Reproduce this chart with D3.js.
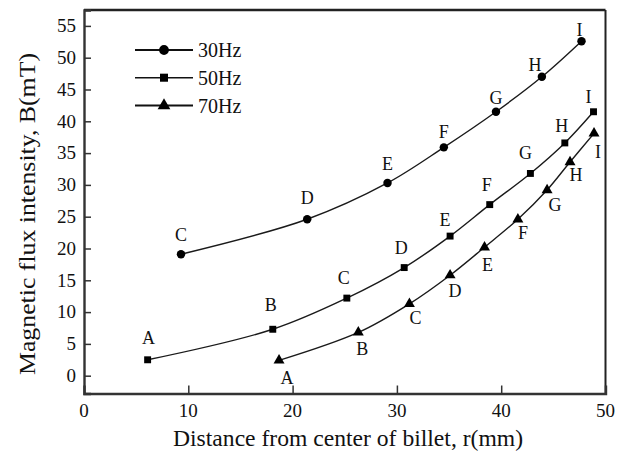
<!DOCTYPE html>
<html>
<head>
<meta charset="utf-8">
<script src="https://cdn.jsdelivr.net/npm/d3@7"></script>
<style>
  html, body { margin: 0; padding: 0; background: #fff; }
  svg { display: block; }
  text { font-family: "Liberation Serif", "Times New Roman", serif; fill: #111; }
</style>
</head>
<body>
<svg id="chart" width="624" height="452"></svg>
<script>
// Measured field strength along the billet radius, three stirring frequencies
const radius30 = [9.3, 21.4, 29.1, 34.5, 39.5, 43.9, 47.7];
const flux30   = [19.1, 24.6, 30.3, 35.9, 41.5, 47.0, 52.6];
const names30  = ["C", "D", "E", "F", "G", "H", "I"];

const radius50 = [6.1, 18.1, 25.2, 30.7, 35.1, 38.9, 42.8, 46.1, 48.85];
const flux50   = [2.5, 7.3, 12.2, 17.0, 21.95, 26.9, 31.8, 36.6, 41.5];
const names50  = ["A", "B", "C", "D", "E", "F", "G", "H", "I"];

const radius70 = [18.7, 26.3, 31.2, 35.1, 38.4, 41.6, 44.4, 46.6, 48.9];
const flux70   = [2.4, 6.8, 11.3, 15.8, 20.2, 24.6, 29.2, 33.6, 38.1];
const names70  = ["A", "B", "C", "D", "E", "F", "G", "H", "I"];

const seriesNames = ["30Hz", "50Hz", "70Hz"];
const xTicks = [0, 10, 20, 30, 40, 50];
const yTicks = [0, 5, 10, 15, 20, 25, 30, 35, 40, 45, 50, 55];
const xTitle = "Distance from center of billet, r(mm)";
const yTitle = "Magnetic flux intensity, B(mT)";

const svg = d3.select("#chart");
const plot = { left: 84, right: 605.5, top: 10, bottom: 393.5 };

const x = d3.scaleLinear().domain([0, 50]).range([plot.left, plot.right]);
const y = d3.scaleLinear().domain([-2.8, 57.5]).range([plot.bottom, plot.top]);

const series = [
  { name: seriesNames[0], r: radius30, b: flux30, ids: names30, symbol: d3.symbolCircle, size: 56, lw: 2.2,
    label: { dx: 0, dy: -16 }, over: { C: { dy: -19 }, D: { dy: -21 }, E: { dy: -19 }, F: { dy: -15 }, G: { dy: -14 }, H: { dx: -7, dy: -12 }, I: { dx: -2, dy: -11 } } },
  { name: seriesNames[1], r: radius50, b: flux50, ids: names50, symbol: d3.symbolSquare, size: 48, lw: 1.4,
    label: { dx: -3, dy: -20 }, over: { A: { dx: 1, dy: -22 }, B: { dx: -2, dy: -24 }, E: { dx: -5, dy: -16 }, G: { dx: -5, dy: -20 }, H: { dx: -3, dy: -17 }, I: { dx: -5, dy: -15 } } },
  { name: seriesNames[2], r: radius70, b: flux70, ids: names70, symbol: d3.symbolTriangle, size: 52, lw: 2.2,
    label: { dx: 5, dy: 16 }, over: { A: { dx: 8, dy: 18 }, B: { dx: 4, dy: 17 }, C: { dx: 6, dy: 14 }, E: { dx: 3, dy: 18 }, F: { dx: 5, dy: 14 }, G: { dx: 8, dy: 15 }, H: { dx: 6, dy: 13 }, I: { dx: 4, dy: 19 } } }
];

// frame
const frame = svg.append("g").attr("stroke", "#222").attr("fill", "none");
frame.append("line").attr("x1", plot.left).attr("x2", plot.right).attr("y1", plot.top).attr("y2", plot.top).attr("stroke-width", 2.6);
frame.append("line").attr("x1", plot.right).attr("x2", plot.right).attr("y1", plot.top).attr("y2", plot.bottom).attr("stroke-width", 2);

// axes with inward ticks
const xAxis = svg.append("g").attr("transform", `translate(0,${plot.bottom})`)
  .call(d3.axisTop(x).tickValues(xTicks).tickSize(8).tickFormat(""));
const yAxis = svg.append("g").attr("transform", `translate(${plot.left},0)`)
  .call(d3.axisRight(y).tickValues(yTicks).tickSize(7).tickFormat(""));
[xAxis, yAxis].forEach(a => {
  a.select(".domain").attr("stroke", "#333").attr("stroke-width", 2.4);
  a.selectAll(".tick line").attr("stroke", "#333").attr("stroke-width", 1.5);
});
// the end ticks sit on the frame itself
xAxis.selectAll(".tick").filter(d => d === 0 || d === 50).select("line").remove();

svg.append("g").selectAll("text").data(xTicks).join("text")
  .attr("x", d => x(d)).attr("y", 417).attr("text-anchor", "middle")
  .attr("font-size", 19).text(d => d);
svg.append("g").selectAll("text").data(yTicks).join("text")
  .attr("x", plot.left - 8).attr("y", d => y(d) + 6.3).attr("text-anchor", "end")
  .attr("font-size", 19).text(d => d);

svg.append("text").attr("x", 348).attr("y", 446).attr("text-anchor", "middle")
  .attr("font-size", 23).attr("textLength", 350).attr("lengthAdjust", "spacingAndGlyphs").text(xTitle);
svg.append("text").attr("transform", "translate(35,214) rotate(-90)").attr("text-anchor", "middle")
  .attr("font-size", 23).attr("textLength", 322).attr("lengthAdjust", "spacingAndGlyphs").text(yTitle);

// curves, markers and point letters
const curve = d3.line().x(d => x(d.r)).y(d => y(d.b)).curve(d3.curveCatmullRom.alpha(0.5));
series.forEach(s => {
  const pts = s.r.map((r, i) => ({ r, b: s.b[i], id: s.ids[i] }));
  svg.append("path").datum(pts).attr("d", curve)
    .attr("fill", "none").attr("stroke", "#1a1a1a").attr("stroke-width", 1.4);
  svg.append("g").selectAll("path").data(pts).join("path")
    .attr("transform", d => `translate(${x(d.r)},${y(d.b)})`)
    .attr("d", d3.symbol().type(s.symbol).size(s.size)).attr("fill", "#000");
  svg.append("g").selectAll("text").data(pts).join("text")
    .attr("x", d => x(d.r) + ((s.over[d.id] || s.label).dx ?? s.label.dx))
    .attr("y", d => y(d.b) + ((s.over[d.id] || s.label).dy ?? s.label.dy) + 6)
    .attr("text-anchor", "middle").attr("font-size", 18).text(d => d.id);
});

// legend
const legendY = [50, 77.7, 105.5];
series.forEach((s, i) => {
  const g = svg.append("g").attr("transform", `translate(0,${legendY[i]})`);
  g.append("line").attr("x1", 135).attr("x2", 193).attr("stroke", "#111").attr("stroke-width", s.lw);
  g.append("path").attr("transform", "translate(164,0)")
    .attr("d", d3.symbol().type(s.symbol).size(s.size * 1.35)).attr("fill", "#000");
  g.append("text").attr("x", 198).attr("y", 7.3).attr("font-size", 20).text(s.name);
});
</script>
</body>
</html>
